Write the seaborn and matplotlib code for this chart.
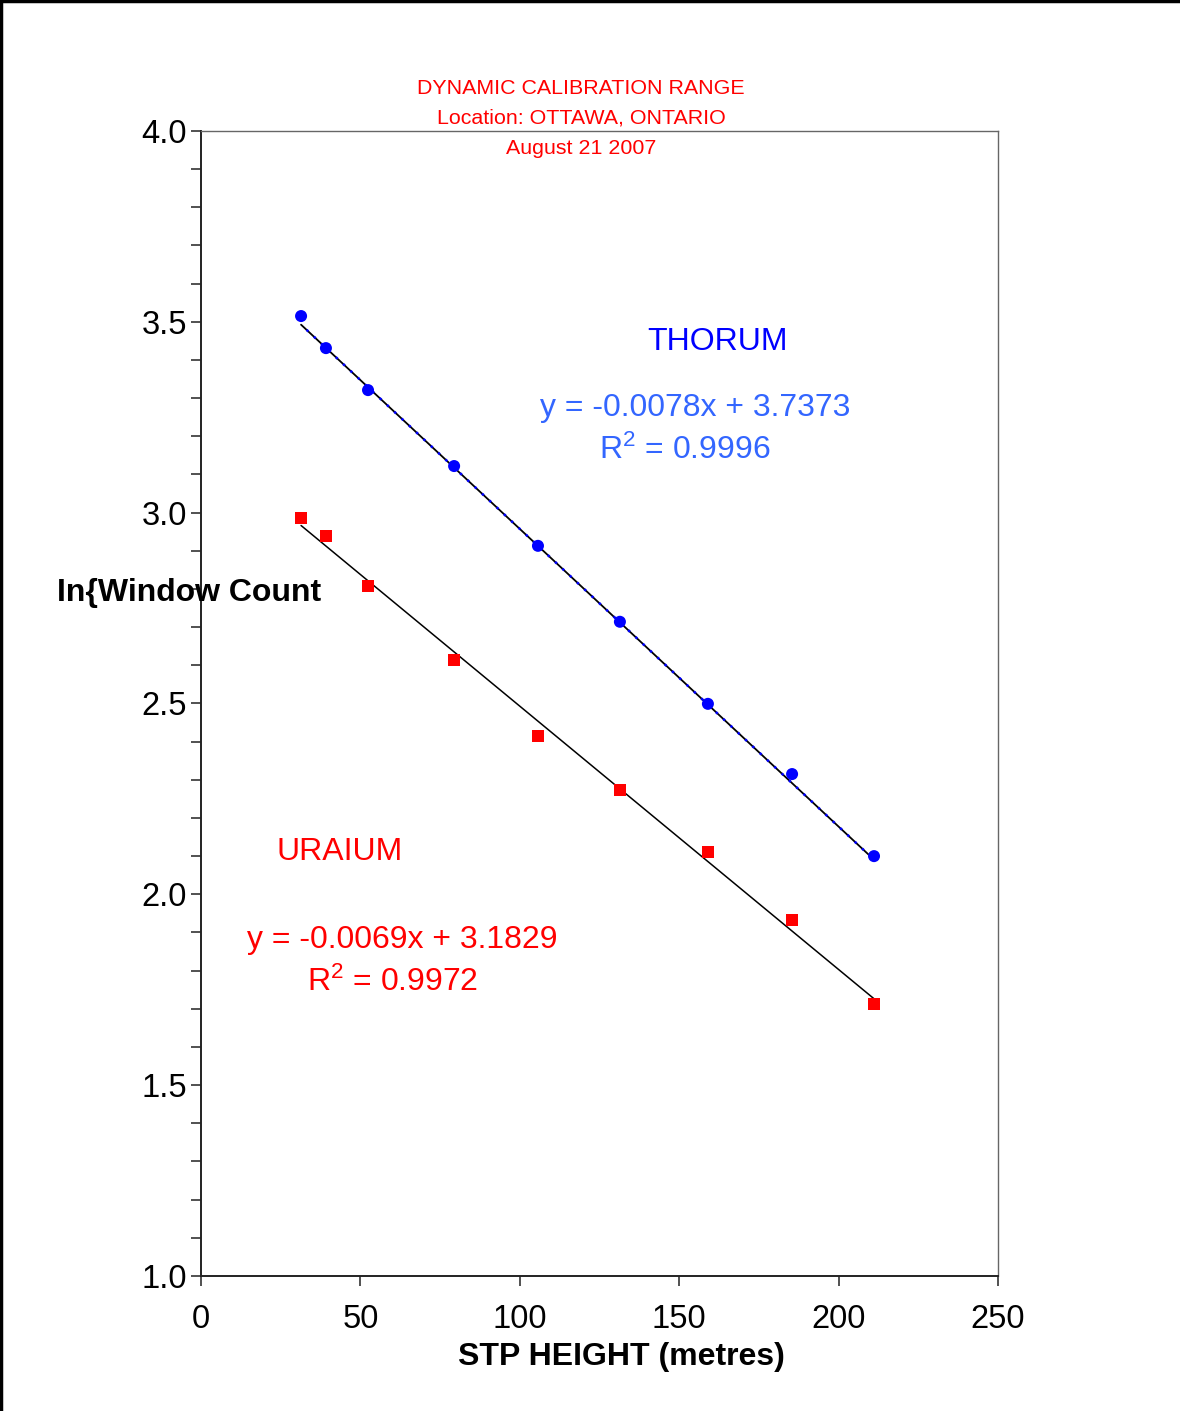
import matplotlib.pyplot as plt
import matplotlib.lines as mlines
import numpy as np
import pandas as pd
import seaborn as sns

# dados
altura = [31.4, 39.2, 52.4, 79.4, 105.7, 131.4, 159.0, 185.4, 211.1]
torio = [3.515, 3.431, 3.321, 3.122, 2.913, 2.714, 2.499, 2.315, 2.100]
uranio = [2.986, 2.939, 2.808, 2.614, 2.415, 2.273, 2.111, 1.933, 1.713]

# coeficientes das retas de tendencia
coef_torio = (-0.0078, 3.7373)
coef_uranio = (-0.0069, 3.1829)

df = pd.DataFrame({'altura': altura, 'torio': torio, 'uranio': uranio})
df['fit_torio'] = coef_torio[0] * df['altura'] + coef_torio[1]
df['fit_uranio'] = coef_uranio[0] * df['altura'] + coef_uranio[1]

sns.set_theme(style="ticks")
plt.rcParams['font.family'] = ['Liberation Sans', 'DejaVu Sans']
plt.rcParams['mathtext.fontset'] = 'custom'
plt.rcParams['mathtext.rm'] = 'Liberation Sans'
plt.rcParams['mathtext.default'] = 'regular'
plt.rcParams['text.color'] = 'black'
plt.rcParams['axes.labelcolor'] = 'black'
plt.rcParams['xtick.color'] = 'black'
plt.rcParams['ytick.color'] = 'black'

fig = plt.figure(figsize=(11.8, 14.11), dpi=100)
ax = fig.add_axes([0.1703, 0.0957, 0.6755, 0.8115])

# retas de tendencia
sns.lineplot(data=df, x='altura', y='fit_torio', ax=ax, color='black', lw=1.3)
sns.lineplot(data=df, x='altura', y='fit_torio', ax=ax, color='blue', lw=1.8, linestyle=(1, (1, 3)))
sns.lineplot(data=df, x='altura', y='fit_uranio', ax=ax, color='black', lw=1.1)

# pontos
sns.scatterplot(data=df, x='altura', y='torio', ax=ax, color='blue', marker='o', s=75, edgecolor='none', zorder=5)
sns.scatterplot(data=df, x='altura', y='uranio', ax=ax, color='red', marker='s', s=75, edgecolor='none', zorder=5)

ax.set_xlim(0, 250)
ax.set_ylim(1.0, 4.0)
ax.set_xticks(np.arange(0, 251, 50))
ax.set_yticks(np.arange(1.0, 4.01, 0.5))
ax.set_yticks(np.arange(1.0, 4.01, 0.1), minor=True)
ax.set_yticklabels([f'{v:.1f}' for v in np.arange(1.0, 4.01, 0.5)])
ax.tick_params(axis='both', which='major', labelsize=23.5, length=7, width=1.2, color='#333333', pad=3)
ax.tick_params(axis='y', which='minor', length=7, width=1.2, color='#333333')
ax.tick_params(axis='x', pad=13)

for lado in ['left', 'bottom']:
    ax.spines[lado].set_color('#222222')
    ax.spines[lado].set_linewidth(1.4)
for lado in ['top', 'right']:
    ax.spines[lado].set_visible(True)
    ax.spines[lado].set_color('#666666')
    ax.spines[lado].set_linewidth(1.0)

ax.set_xlabel('STP HEIGHT (metres)', fontsize=23, fontweight='bold')
ax.xaxis.set_label_coords(0.528, -0.058)
ax.set_ylabel('')
fig.text(0.048, 0.580, 'In{Window Count', fontsize=23, fontweight='bold', ha='left', va='center')

# titulo
titulo = ['DYNAMIC CALIBRATION RANGE', 'Location: OTTAWA, ONTARIO', 'August 21 2007']
for i, linha in enumerate(titulo):
    fig.text(0.4925, 1 - (88 + 30 * i) / 1411, linha, color='red', fontsize=15.4, ha='center', va='center')

# anotacoes
ax.text(161.9, 3.447, 'THORUM', color='blue', fontsize=23, ha='center', va='center')
ax.text(155, 3.274, 'y = -0.0078x + 3.7373', color='#3366FF', fontsize=23, ha='center', va='center')
ax.text(151.8, 3.164, 'R$^{2}$ = 0.9996', color='#3366FF', fontsize=23, ha='center', va='center')
ax.text(43.6, 2.111, 'URAIUM', color='red', fontsize=23, ha='center', va='center')
ax.text(63.1, 1.880, 'y = -0.0069x + 3.1829', color='red', fontsize=23, ha='center', va='center')
ax.text(60.2, 1.770, 'R$^{2}$ = 0.9972', color='red', fontsize=23, ha='center', va='center')

# borda da figura (apenas topo e esquerda)
fig.add_artist(mlines.Line2D([0, 1], [0.9995, 0.9995], color='black', lw=2.5, transform=fig.transFigure))
fig.add_artist(mlines.Line2D([0.0008, 0.0008], [0, 1], color='black', lw=2.5, transform=fig.transFigure))

fig.savefig('out.png', dpi=100)
